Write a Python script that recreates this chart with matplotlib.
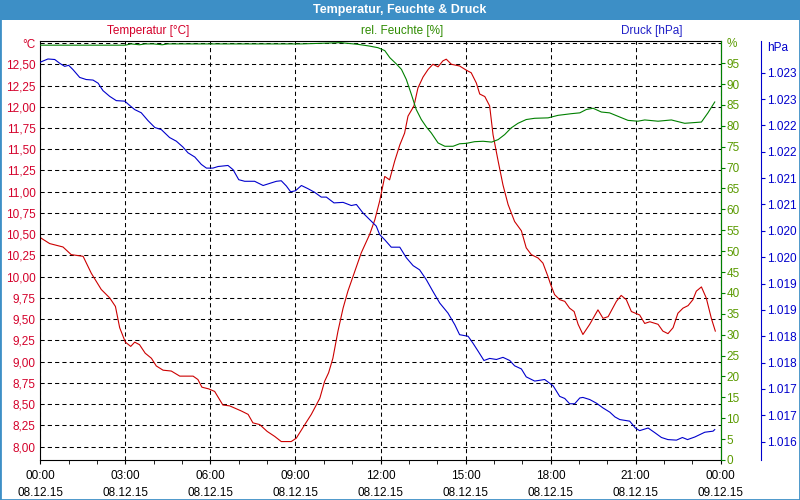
import matplotlib
matplotlib.use("Agg")
import matplotlib.pyplot as plt
import matplotlib.dates as mdates
from matplotlib.patches import Rectangle
import pandas as pd

plt.rcParams['font.family'] = ['Liberation Sans', 'DejaVu Sans']
plt.rcParams['font.size'] = 8.5

# Messwerte 08.12.2015 (Stunden ab 00:00)
temp_h = [0.0, 0.33, 0.80, 1.09, 1.51, 1.80, 2.15, 2.45, 2.65, 2.80, 3.0, 3.19, 3.33, 3.5, 3.70,
          3.92, 4.09, 4.33, 4.62, 4.92, 5.39, 5.56, 5.70, 5.94, 6.15, 6.44, 6.68, 7.09, 7.33, 7.50,
          7.74, 8.0, 8.27, 8.50, 8.85, 9.03, 9.33, 9.56, 9.86, 10.03, 10.17, 10.32, 10.50, 10.68,
          10.85, 11.09, 11.32, 11.62, 11.80, 11.97, 12.15, 12.32, 12.50, 12.68, 12.85, 12.97, 13.18,
          13.32, 13.50, 13.68, 13.85, 14.03, 14.20, 14.32, 14.50, 14.79, 15.03, 15.20, 15.38, 15.50,
          15.68, 15.85, 15.97, 16.15, 16.32, 16.50, 16.73, 16.97, 17.14, 17.32, 17.56, 17.73, 17.91,
          18.0, 18.14, 18.32, 18.50, 18.67, 18.83, 18.97, 19.14, 19.38, 19.67, 19.85, 20.03, 20.32,
          20.49, 20.67, 20.85, 21.14, 21.32, 21.50, 21.79, 21.96, 22.14, 22.32, 22.49, 22.67, 22.85,
          23.02, 23.14, 23.32, 23.49, 23.67, 23.81]
temp_c = [10.46, 10.39, 10.35, 10.26, 10.24, 10.04, 9.85, 9.75, 9.65, 9.40, 9.23, 9.18, 9.23, 9.20,
          9.10, 9.04, 8.95, 8.90, 8.89, 8.83, 8.83, 8.79, 8.70, 8.68, 8.65, 8.49, 8.48, 8.42, 8.38,
          8.28, 8.26, 8.18, 8.12, 8.06, 8.06, 8.10, 8.26, 8.38, 8.57, 8.77, 8.87, 9.04, 9.36, 9.63,
          9.83, 10.06, 10.28, 10.50, 10.67, 10.89, 11.18, 11.14, 11.36, 11.55, 11.69, 11.89, 12.01,
          12.22, 12.35, 12.44, 12.50, 12.47, 12.54, 12.56, 12.50, 12.48, 12.43, 12.40, 12.28, 12.15,
          12.12, 12.01, 11.67, 11.36, 11.08, 10.85, 10.65, 10.54, 10.34, 10.26, 10.22, 10.16, 10.00,
          9.91, 9.79, 9.73, 9.71, 9.63, 9.59, 9.44, 9.32, 9.44, 9.61, 9.51, 9.53, 9.71, 9.78, 9.73,
          9.59, 9.55, 9.45, 9.47, 9.44, 9.36, 9.33, 9.40, 9.57, 9.63, 9.66, 9.73, 9.83, 9.88, 9.75,
          9.51, 9.36]

hum_h = [0.0, 3.0, 3.2, 3.5, 3.7, 4.0, 4.3, 4.5, 9.2, 10.6, 11.2, 11.6, 11.91, 12.15, 12.33, 12.56,
         12.74, 12.91, 13.09, 13.26, 13.44, 13.62, 13.79, 14.03, 14.27, 14.56, 14.79, 15.03, 15.32,
         15.62, 15.92, 16.15, 16.38, 16.61, 16.85, 17.14, 17.44, 17.91, 18.26, 18.73, 19.03, 19.26,
         19.50, 19.79, 20.08, 20.44, 20.73, 21.08, 21.32, 21.79, 22.26, 22.73, 23.32, 23.55, 23.79]
hum_pct = [99.3, 99.3, 99.6, 99.4, 99.6, 99.6, 99.4, 99.6, 99.6, 99.9, 99.5, 99.1, 98.7, 98.0, 96.3,
           94.8, 93.5, 91.1, 87.5, 83.9, 81.5, 79.7, 78.3, 75.9, 75.1, 75.1, 75.7, 75.8, 76.2, 76.3,
           76.1, 76.7, 77.9, 79.5, 80.6, 81.5, 81.8, 81.9, 82.5, 82.9, 83.1, 83.9, 84.2, 83.3, 83.1,
           82.1, 81.3, 81.1, 81.4, 81.1, 81.4, 80.6, 80.9, 83.1, 85.7]

pres_h = [0.0, 0.27, 0.51, 0.68, 0.86, 1.0, 1.15, 1.39, 1.62, 1.86, 2.04, 2.21, 2.45, 2.68, 2.98,
          3.15, 3.33, 3.56, 3.80, 4.04, 4.27, 4.56, 4.80, 5.03, 5.21, 5.45, 5.68, 5.86, 6.09, 6.27,
          6.62, 6.80, 7.0, 7.21, 7.56, 7.86, 8.15, 8.33, 8.50, 8.68, 8.83, 9.0, 9.21, 9.44, 9.68,
          9.91, 10.09, 10.36, 10.68, 10.97, 11.15, 11.38, 11.68, 11.85, 11.97, 12.15, 12.38, 12.68,
          12.91, 13.15, 13.38, 13.62, 13.85, 14.09, 14.38, 14.62, 14.79, 15.09, 15.26, 15.44, 15.65,
          15.85, 16.09, 16.32, 16.56, 16.73, 16.97, 17.14, 17.44, 17.79, 18.09, 18.32, 18.50, 18.67,
          18.85, 19.03, 19.14, 19.38, 19.62, 19.85, 20.09, 20.27, 20.44, 20.79, 20.99, 21.14, 21.44,
          21.68, 21.91, 22.14, 22.44, 22.65, 22.83, 23.09, 23.44, 23.73, 23.79]
pres_hpa = [1.02320, 1.02326, 1.02325, 1.02318, 1.02312, 1.02314, 1.02306, 1.02291, 1.02287, 1.02286,
            1.02280, 1.02266, 1.02255, 1.02247, 1.02246, 1.02238, 1.02230, 1.02224, 1.02209, 1.02196,
            1.02192, 1.02177, 1.02170, 1.02159, 1.02148, 1.02140, 1.02126, 1.02119, 1.02119, 1.02122,
            1.02124, 1.02116, 1.02097, 1.02094, 1.02094, 1.02086, 1.02091, 1.02094, 1.02095, 1.02085,
            1.02074, 1.02076, 1.02086, 1.02080, 1.02073, 1.02064, 1.02064, 1.02053, 1.02054, 1.02048,
            1.02050, 1.02034, 1.02018, 1.02009, 1.01993, 1.01983, 1.01969, 1.01969, 1.01949, 1.01934,
            1.01926, 1.01907, 1.01885, 1.01863, 1.01844, 1.01822, 1.01803, 1.01800, 1.01787, 1.01772,
            1.01754, 1.01758, 1.01756, 1.01760, 1.01754, 1.01744, 1.01738, 1.01723, 1.01715, 1.01718,
            1.01706, 1.01686, 1.01682, 1.01672, 1.01672, 1.01683, 1.01684, 1.01680, 1.01673, 1.01664,
            1.01656, 1.01647, 1.01642, 1.01639, 1.01626, 1.01621, 1.01626, 1.01617, 1.01608, 1.01604,
            1.01603, 1.01608, 1.01604, 1.01609, 1.01618, 1.01620, 1.01623]

# Achsenbeschriftungen
temp_ticks = [8.0 + 0.25 * i for i in range(20)]
temp_labels = ['%.2f' % v for v in temp_ticks[:-1]]
temp_labels = [s.replace('.', ',') for s in temp_labels] + ['°C']
hum_ticks = list(range(0, 105, 5))
hum_labels = [str(v) for v in hum_ticks[:-1]] + ['%']
pres_ticks = [1.0160 + 0.0005 * i for i in range(16)]
pres_labels = ['1.016', '1.017', '1.017', '1.018', '1.018', '1.019', '1.019', '1.020',
               '1.020', '1.021', '1.021', '1.022', '1.022', '1.023', '1.023', 'hPa']

day = pd.Timestamp('2015-12-08')
def to_time(hours):
    return day + pd.to_timedelta(hours, unit='h')

RED = '#cc0000'
GREEN = '#008000'
BLUE = '#0000cc'
BAR = '#3d8fc6'

fig = plt.figure(figsize=(8, 5), dpi=100)
ax = fig.add_axes([40.3 / 800, 40 / 500, 680.4 / 800, 419 / 500])
ax2 = ax.twinx()
ax3 = ax.twinx()

ax.plot(to_time(temp_h), temp_c, color=RED, lw=0.8)
ax2.plot(to_time(hum_h), hum_pct, color=GREEN, lw=0.8)
ax3.plot(to_time(pres_h), pres_hpa, color=BLUE, lw=0.8)

ax.set_xlim(day, day + pd.Timedelta(hours=24))
ax.xaxis.set_major_locator(mdates.HourLocator(byhour=range(0, 24, 3)))
ax.xaxis.set_minor_locator(mdates.HourLocator())
ax.xaxis.set_major_formatter(mdates.DateFormatter('%H:%M\n%d.%m.%y'))
ax.tick_params(axis='x', which='both', length=3, direction='out', pad=4)
for lab in ax.get_xticklabels():
    lab.set_linespacing(1.55)

ax.set_ylim(7.843, 12.774)
ax.set_yticks(temp_ticks)
ax.set_yticklabels(temp_labels)
ax.tick_params(axis='y', length=0, pad=3.5, labelcolor='#d4002a')
ax.grid(True, which='major', color='black', lw=0.75, linestyle=(0, (4, 3)))

ax2.set_ylim(0, 100.3)
ax2.set_yticks(hum_ticks)
ax2.set_yticklabels(hum_labels)
ax2.tick_params(axis='y', length=3, pad=1, color=GREEN, labelcolor='#5a9a00')
ax2.yaxis.get_major_ticks()[-1].tick2line.set_visible(False)
ax2.spines['right'].set_color(GREEN)

ax3.set_ylim(1.015653, 1.023601)
ax3.set_yticks(pres_ticks)
ax3.set_yticklabels(pres_labels)
ax3.spines['right'].set_position(('outward', 28.8))
ax3.spines['right'].set_color(BLUE)
ax3.tick_params(axis='y', length=3, pad=1.5, color=BLUE, labelcolor=BLUE)
ax3.yaxis.get_major_ticks()[-1].tick2line.set_visible(False)

for a in (ax2, ax3):
    for s in ('left', 'top', 'bottom'):
        a.spines[s].set_visible(False)
for s in ax.spines.values():
    s.set_linewidth(0.8)
ax2.spines['right'].set_linewidth(0.8)
ax3.spines['right'].set_linewidth(0.8)

# Kopfzeile und Legende
fig.add_artist(Rectangle((0, 1 - 20 / 500), 1, 20 / 500, transform=fig.transFigure,
                         facecolor=BAR, edgecolor='none'))
fig.add_artist(Rectangle((0, 0), 1, 1, transform=fig.transFigure, fill=False,
                         edgecolor=BAR, lw=2))
fig.text(0.5, 1 - 10 / 500, 'Temperatur, Feuchte & Druck', color='white',
         fontweight='bold', ha='center', va='center', fontsize=9)
fig.text(148 / 800, 1 - 31 / 500, 'Temperatur [°C]', color='#d4002a', ha='center', va='center')
fig.text(402 / 800, 1 - 31 / 500, 'rel. Feuchte [%]', color='#2e8b00', ha='center', va='center')
fig.text(652 / 800, 1 - 31 / 500, 'Druck [hPa]', color='#2020c8', ha='center', va='center')

fig.savefig('out.png', dpi=100)
